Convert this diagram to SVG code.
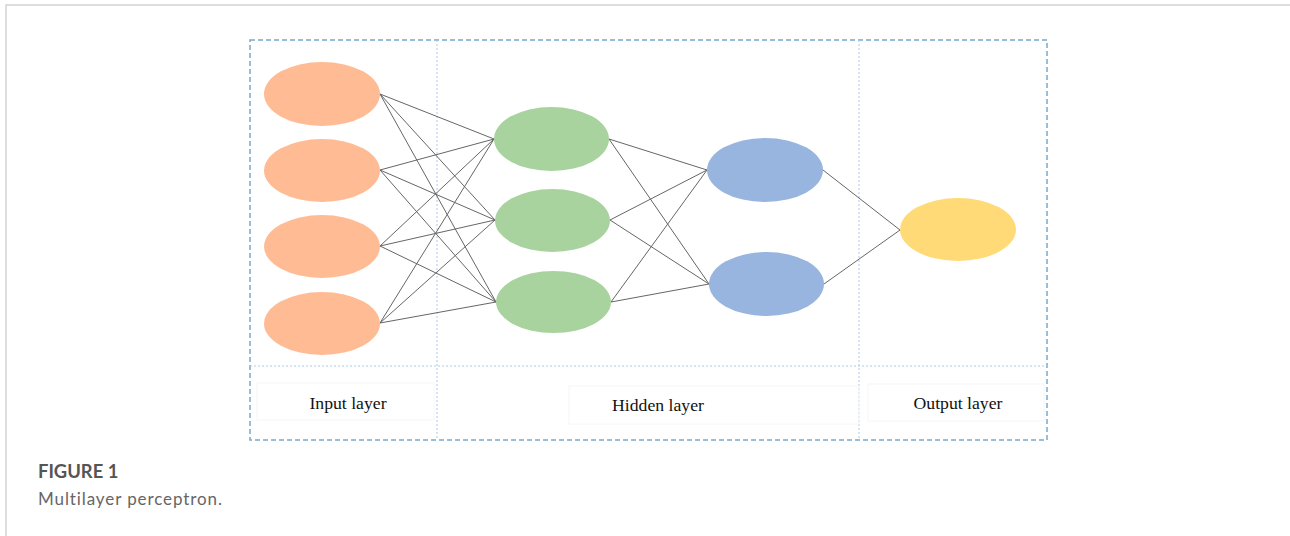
<svg xmlns="http://www.w3.org/2000/svg" width="1290" height="536" viewBox="0 0 1290 536">
<style>
.frame{fill:none;stroke:#d2d2d2;stroke-width:1.5}
.outer{fill:none;stroke:#7aa8cc;stroke-width:1.5;stroke-dasharray:5 3}
.div{fill:none;stroke:#a9cdea;stroke-width:1;stroke-dasharray:2 2}
.lbox{fill:none;stroke:#f6f6f6;stroke-width:1}
.lbl{font-family:"Liberation Serif","Times New Roman",serif;font-size:17.7px;fill:#111;text-anchor:middle}
.inp{fill:#ffbb94}
.hid{fill:#a8d39e}
.hid2{fill:#97b5de}
.out{fill:#ffda77}
.edge{stroke:#666;stroke-width:1;fill:none}
.cap1{font-family:Lato,"Open Sans",sans-serif;font-size:18.4px;font-weight:bold;fill:#555}
.cap2{font-family:Lato,"Open Sans",sans-serif;font-size:17px;fill:#666;letter-spacing:0.9px}
</style>
<path class="frame" d="M6 536 V5 H1290"/>
<rect class="outer" x="250" y="40" width="797" height="400"/>
<line class="div" x1="437" y1="40" x2="437" y2="440"/>
<line class="div" x1="859" y1="40" x2="859" y2="440"/>
<line class="div" x1="250" y1="366" x2="1047" y2="366"/>
<rect class="lbox" x="257" y="383" width="177" height="37"/>
<rect class="lbox" x="569" y="386" width="290" height="38"/>
<rect class="lbox" x="868" y="384" width="176" height="37"/>
<g id="connectors">
<path class="edge" d="M380 94 L494 139 M380 94 L495 220 M380 94 L496 302 M380 170 L494 139 M380 170 L495 220 M380 170 L496 302 M380 246 L494 139 M380 246 L495 220 M380 246 L496 302 M380 323 L494 139 M380 323 L495 220 M380 323 L496 302"/>
<path class="edge" d="M609 139 L707 170 M609 139 L709 284 M610 220 L707 170 M610 220 L709 284 M611 302 L707 170 M611 302 L709 284"/>
<path class="edge" d="M823 170 L900 230 M824 284 L900 230"/>
</g>
<g id="in1"><ellipse class="inp" cx="322" cy="94" rx="58" ry="32"/></g>
<g id="in2"><ellipse class="inp" cx="322" cy="170.5" rx="58" ry="31.5"/></g>
<g id="in3"><ellipse class="inp" cx="322" cy="246.5" rx="58" ry="31.5"/></g>
<g id="in4"><ellipse class="inp" cx="322" cy="323.5" rx="58" ry="31.5"/></g>
<g id="h1"><ellipse class="hid" cx="551.5" cy="139" rx="57.5" ry="32"/></g>
<g id="h2"><ellipse class="hid" cx="552.5" cy="220.5" rx="57.5" ry="31.5"/></g>
<g id="h3"><ellipse class="hid" cx="553.5" cy="302" rx="57.5" ry="31"/></g>
<g id="h4"><ellipse class="hid2" cx="765" cy="170" rx="58" ry="32"/></g>
<g id="h5"><ellipse class="hid2" cx="766.5" cy="284" rx="57.5" ry="32"/></g>
<g id="o1"><ellipse class="out" cx="958" cy="229.5" rx="58" ry="31.5"/></g>
<g id="lbl-input"><text class="lbl" x="348" y="409">Input layer</text></g>
<g id="lbl-hidden"><text class="lbl" x="658" y="411">Hidden layer</text></g>
<g id="lbl-output"><text class="lbl" x="958" y="409">Output layer</text></g>
<g id="caption">
<text class="cap1" x="38" y="478">FIGURE 1</text>
<text class="cap2" x="38" y="505">Multilayer perceptron.</text>
</g>
</svg>
